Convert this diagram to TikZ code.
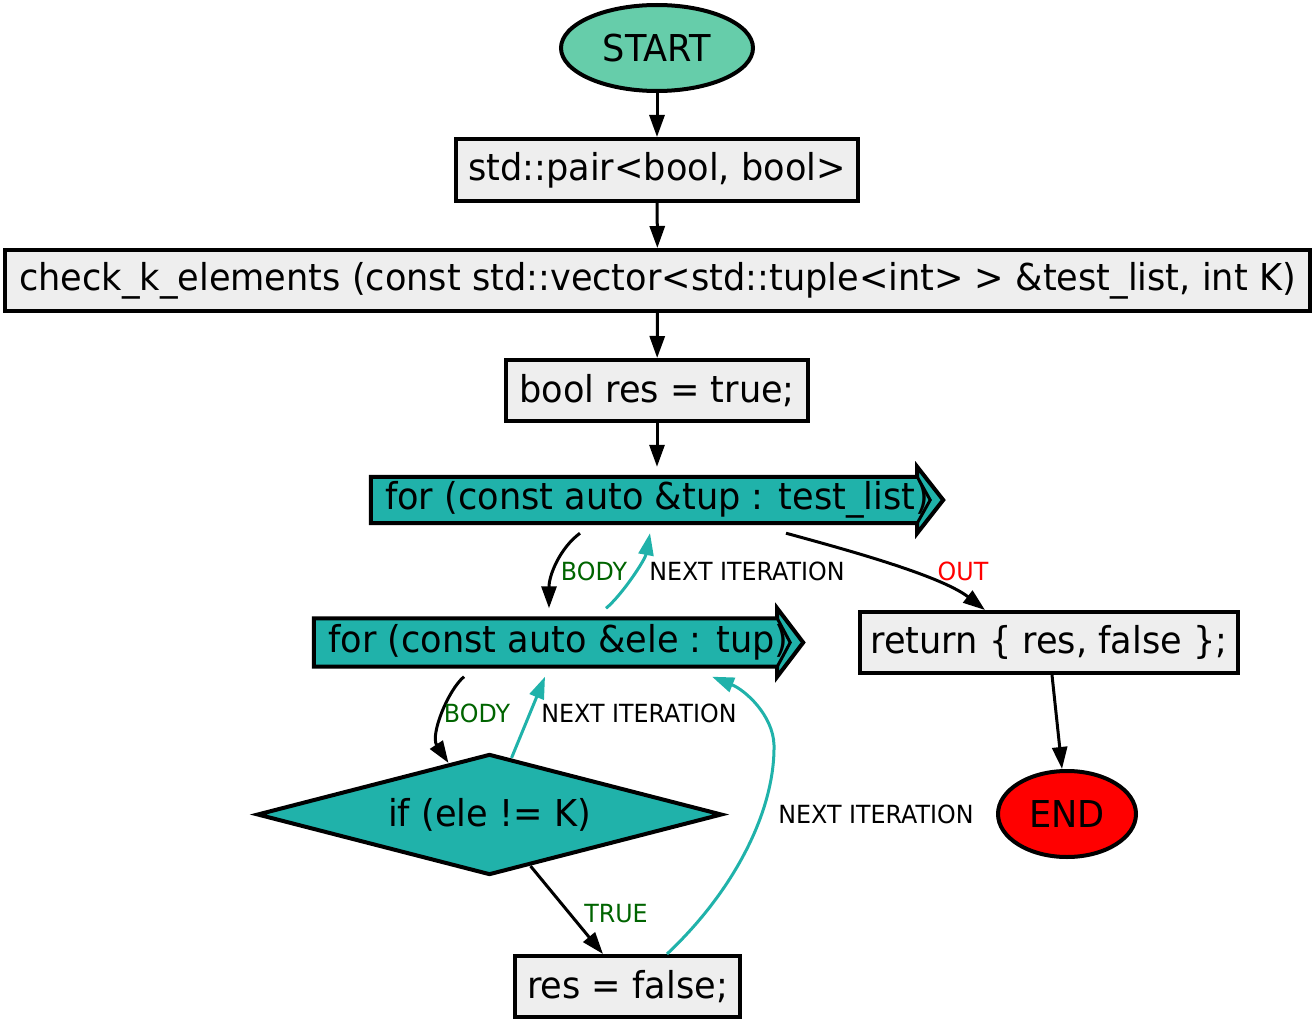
\documentclass[tikz,border=0pt]{standalone}
\usepackage{fontspec}
\setmainfont{DejaVu Sans}[FakeStretch=0.95]
\usetikzlibrary{shapes.geometric,arrows.meta,backgrounds,calc}
\definecolor{teal1}{HTML}{20B2AA}
\definecolor{aqua1}{HTML}{66CDAA}
\definecolor{lgray}{HTML}{EEEEEE}
\definecolor{dgreen}{HTML}{006400}
\begin{document}
\begin{tikzpicture}[x=1pt,y=-1pt,
  nodefont/.style={font=\fontsize{37}{42}\selectfont},
  box/.style={draw, line width=4pt, fill=lgray, inner sep=0pt, nodefont, minimum height=61pt},
  term/.style={draw, ellipse, line width=4pt, inner sep=0pt, nodefont, minimum height=86pt},
  loopnode/.style={inner sep=0pt, nodefont},
  lbl/.style={inner sep=0pt, font=\fontsize{25}{29}\selectfont},
  edge/.style={line width=3pt, -{Triangle[length=22pt,width=15pt]}},
  nextedge/.style={edge, draw=teal1}
]
\useasboundingbox (0,0) rectangle (1315,1022);

\node[term, fill=aqua1, minimum width=192pt] (start) at (657,48) {START};
\node[box, minimum width=402pt, minimum height=62pt] (pair) at (657,170) {std::pair<bool, bool>};
\node[box, minimum width=1305pt] (check) at (657.5,280.5) {check\_k\_elements (const std::vector<std::tuple<int> > \&test\_list, int K)};
\node[box, minimum width=302pt] (bool) at (657,390.5) {bool res = true;};
\node[loopnode, minimum width=572pt, minimum height=66pt] (tup) at (657,500) {for (const auto \&tup : test\_list)};
\node[loopnode, minimum width=489pt, minimum height=68pt] (ele) at (558.5,642.5) {for (const auto \&ele : tup)};
\node[box, minimum width=378pt] (ret) at (1049,642.5) {return \{ res, false \};};
\node[draw, diamond, shape aspect=3.84, line width=4pt, fill=teal1, inner sep=0pt, nodefont, minimum width=465pt, minimum height=121pt] (diam) at (489.5,814.5) {if (ele != K)};
\node[term, fill=red, minimum width=138pt] (END) at (1067,814) {END};
\node[box, minimum width=225pt] (res) at (627.5,986.5) {res = false;};

\begin{scope}[on background layer]
\foreach \n in {tup,ele} {
  \draw[line width=4pt, fill=teal1, line join=miter]
    ($(\n.north west)+(0,10)$) -- ($(\n.north east)+(-26,10)$) -- ($(\n.north east)+(-26,0)$)
    -- (\n.east) -- ($(\n.south east)+(-26,0)$) -- ($(\n.south east)+(-26,-10)$)
    -- ($(\n.south west)+(0,-10)$) -- cycle;
  \draw[line width=3pt]
    ($(\n.north east)+(-26,10)$) -- ($(\n.east)+(-13,0)$) -- ($(\n.south east)+(-26,-10)$);
}
\end{scope}

\draw[edge] (start) -- (pair);
\draw[edge] (pair) -- (check);
\draw[edge] (check) -- (bool);
\draw[edge] (bool) -- (tup);

\draw[edge] ([xshift=-77pt]tup.south) .. controls (560,548) and (549,575) .. ([xshift=-9.5pt]ele.north);
\draw[nextedge] ([xshift=47.5pt]ele.north) .. controls (622,595) and (645,560) .. ([xshift=-7pt]tup.south);
\draw[edge] ([xshift=129pt]tup.south) .. controls (840,548) and (940,575) .. ([xshift=-64pt]ret.north);
\draw[edge] ([xshift=-94.5pt]ele.south) .. controls (448,690) and (430,735) .. ($(diam.north)!0.175!(diam.west)$);
\draw[nextedge] ($(diam.north)!0.094!(diam.east)$) -- ([xshift=-13.5pt]ele.south);
\draw[edge] ($(diam.south)!0.175!(diam.east)$) -- ([xshift=-24.5pt]res.north);
\draw[nextedge] ([xshift=39.5pt]res.north) .. controls (735,890) and (775,810) .. (774,745)
   .. controls (773,715) and (745,690) .. ([xshift=153.5pt]ele.south);
\draw[edge] ([xshift=3pt]ret.south) -- ([xshift=-5pt]END.north);

\node[lbl, text=dgreen] (l1) at (594,571) {BODY};
\node[lbl] (l2) at (747,571) {NEXT ITERATION};
\node[lbl, text=red] (l3) at (963,571) {OUT};
\node[lbl, text=dgreen] (l4) at (477,713) {BODY};
\node[lbl] (l5) at (639,713) {NEXT ITERATION};
\node[lbl] (l6) at (876,814) {NEXT ITERATION};
\node[lbl, text=dgreen] (l7) at (616,914) {TRUE};
\end{tikzpicture}
\end{document}
